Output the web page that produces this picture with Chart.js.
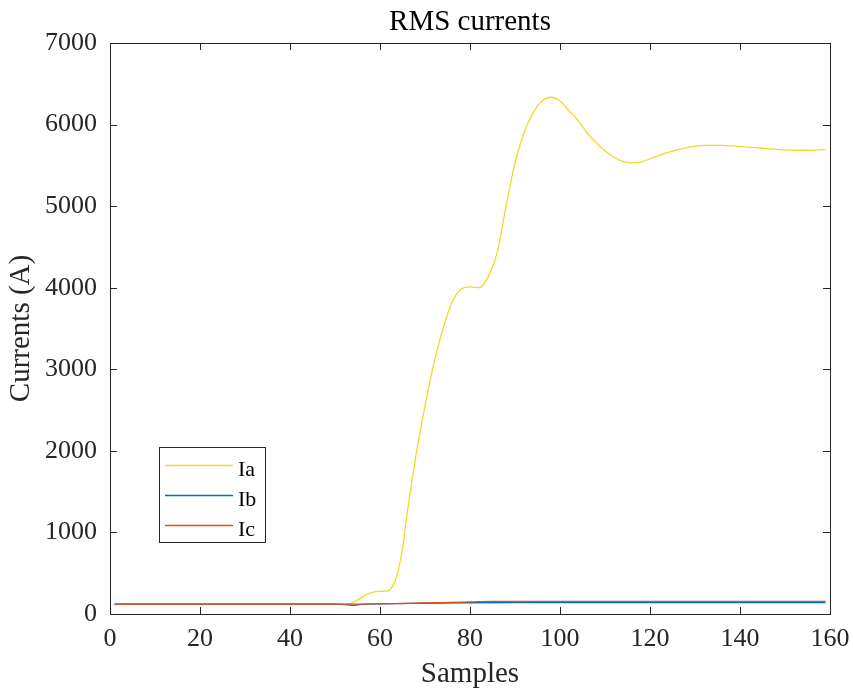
<!DOCTYPE html>
<html>
<head>
<meta charset="utf-8">
<script src="https://cdn.jsdelivr.net/npm/chart.js@4.4.0/dist/chart.umd.min.js"></script>
<style>
  html, body { margin: 0; padding: 0; background: #fff; }
  #wrap { width: 853px; height: 693px; }
</style>
</head>
<body>
<div id="wrap"><canvas id="rmsChart"></canvas></div>
<script>
// values
var iaSamples = [1, 50, 53, 55, 57, 59, 61, 62, 63, 64, 65, 66, 68, 70, 72, 74, 76, 78, 80, 82, 84, 86, 88, 90, 92, 94, 96, 98, 100, 102, 104, 106, 108, 110, 112, 114, 116, 118, 120, 124, 128, 132, 136, 140, 145, 150, 155, 159];
var iaValues = [120, 120, 125, 170, 240, 275, 280, 290, 360, 520, 800, 1220, 1950, 2550, 3080, 3500, 3820, 3980, 4010, 4000, 4130, 4420, 5000, 5530, 5900, 6140, 6290, 6335, 6290, 6170, 6050, 5900, 5780, 5680, 5600, 5550, 5530, 5540, 5580, 5660, 5715, 5745, 5745, 5730, 5710, 5690, 5685, 5695];

var ibSamples = [1, 50, 53, 54, 55, 57, 60, 70, 80, 90, 100, 159];
var ibValues = [120, 120, 112, 105, 112, 120, 125, 132, 138, 140, 140, 140];

var icSamples = [1, 55, 60, 70, 80, 85, 90, 100, 159];
var icValues = [120, 120, 125, 135, 148, 155, 153, 155, 155];

var seriesNames = ["Ia", "Ib", "Ic"];
var seriesColors = ["#EEDB2A", "#0072BD", "#D95319"];

var xTicks = [0, 20, 40, 60, 80, 100, 120, 140, 160];
var yTicks = [0, 1000, 2000, 3000, 4000, 5000, 6000, 7000];

function pairs(xs, ys) {
    return xs.map(function (x, i) { return {x: x, y: ys[i]}; });
}

var axisColor = "#262626";
var serif = "'Liberation Serif', 'Times New Roman', serif";

// box around the axes, inward ticks, and the little legend
var framePlugin = {
    id: 'frame',
    afterDraw: function (chart) {
        var ctx = chart.ctx;
        var a = chart.chartArea;
        var xs = chart.scales.x, ys = chart.scales.y;
        var L = Math.round(a.left), R = Math.round(a.right);
        var T = Math.round(a.top), B = Math.round(a.bottom);
        ctx.save();
        ctx.strokeStyle = axisColor;
        ctx.lineWidth = 1;
        ctx.strokeRect(L + 0.5, T + 0.5, R - L, B - T);
        ctx.beginPath();
        xTicks.forEach(function (t) {
            var px = Math.round(xs.getPixelForValue(t)) + 0.5;
            ctx.moveTo(px, B); ctx.lineTo(px, B - 7);
            ctx.moveTo(px, T); ctx.lineTo(px, T + 7);
        });
        yTicks.forEach(function (t) {
            var py = Math.round(ys.getPixelForValue(t)) + 0.5;
            ctx.moveTo(L, py); ctx.lineTo(L + 7, py);
            ctx.moveTo(R, py); ctx.lineTo(R - 7, py);
        });
        ctx.stroke();

        // legend
        var lx = L + 49, ly = T + 404;
        ctx.fillStyle = "#fff";
        ctx.fillRect(lx, ly, 106, 95);
        ctx.strokeStyle = axisColor;
        ctx.strokeRect(lx + 0.5, ly + 0.5, 106, 95);
        ctx.font = "22px " + serif;
        ctx.textBaseline = "alphabetic";
        ctx.textAlign = "left";
        seriesNames.forEach(function (name, i) {
            var ry = ly + 18 + i * 30;
            ctx.strokeStyle = seriesColors[i];
            ctx.lineWidth = 1.5;
            ctx.beginPath();
            ctx.moveTo(lx + 6, ry + 0.5);
            ctx.lineTo(lx + 74, ry + 0.5);
            ctx.stroke();
            ctx.fillStyle = "#000";
            ctx.fillText(name, lx + 79, ry + 11);
        });
        ctx.restore();
    }
};

var ctx = document.getElementById("rmsChart").getContext("2d");
new Chart(ctx, {
    type: 'line',
    data: {
        datasets: [
            {
                label: seriesNames[0],
                data: pairs(iaSamples, iaValues),
                borderColor: seriesColors[0],
                borderWidth: 1.3,
                pointRadius: 0,
                cubicInterpolationMode: 'monotone',
                order: 2
            },
            {
                label: seriesNames[1],
                data: pairs(ibSamples, ibValues),
                borderColor: seriesColors[1],
                borderWidth: 1.3,
                pointRadius: 0,
                cubicInterpolationMode: 'monotone',
                order: 1
            },
            {
                label: seriesNames[2],
                data: pairs(icSamples, icValues),
                borderColor: seriesColors[2],
                borderWidth: 1.3,
                pointRadius: 0,
                cubicInterpolationMode: 'monotone',
                order: 0
            }
        ]
    },
    options: {
        responsive: true,
        maintainAspectRatio: false,
        animation: false,
        layout: {padding: {left: 0, right: 23, top: 0, bottom: 0}},
        plugins: {
            legend: {display: false},
            tooltip: {enabled: false}
        },
        scales: {
            x: {
                type: 'linear',
                min: 0,
                max: 160,
                afterFit: function (scale) {
                    scale.height = 79;
                    scale.paddingLeft = 0;
                    scale.paddingRight = 0;
                },
                afterBuildTicks: function (scale) {
                    scale.ticks = xTicks.map(function (v) { return {value: v}; });
                },
                grid: {drawOnChartArea: false, drawTicks: false},
                border: {display: true, color: axisColor},
                ticks: {
                    color: "#262626",
                    padding: 10,
                    maxRotation: 0,
                    font: {family: serif, size: 26}
                },
                title: {
                    display: true,
                    text: "Samples",
                    color: "#262626",
                    font: {family: serif, size: 29},
                    padding: {top: 0, bottom: 1.5}
                }
            },
            // top axis only carries the title, so it is centred over the plot box
            top: {
                type: 'linear',
                position: 'top',
                min: 0,
                max: 160,
                afterFit: function (scale) {
                    scale.height = 43;
                    scale.paddingLeft = 0;
                    scale.paddingRight = 0;
                },
                grid: {display: false, drawTicks: false},
                border: {display: false},
                ticks: {display: false},
                title: {
                    display: true,
                    text: "RMS currents",
                    color: "#000",
                    font: {family: serif, size: 29, lineHeight: 1.2},
                    padding: {top: 5, bottom: 0}
                }
            },
            y: {
                type: 'linear',
                min: 0,
                max: 7000,
                afterFit: function (scale) {
                    scale.width = 110;
                    scale.paddingTop = 0;
                    scale.paddingBottom = 0;
                },
                afterBuildTicks: function (scale) {
                    scale.ticks = yTicks.map(function (v) { return {value: v}; });
                },
                grid: {drawOnChartArea: false, drawTicks: false},
                border: {display: true, color: axisColor},
                ticks: {
                    color: "#262626",
                    padding: 13,
                    font: {family: serif, size: 26},
                    callback: function (v) { return String(v); }
                },
                title: {
                    display: true,
                    text: "Currents (A)",
                    color: "#262626",
                    font: {family: serif, size: 29},
                    padding: {top: 4, bottom: 0}
                }
            }
        }
    },
    plugins: [framePlugin]
});
</script>
</body>
</html>
